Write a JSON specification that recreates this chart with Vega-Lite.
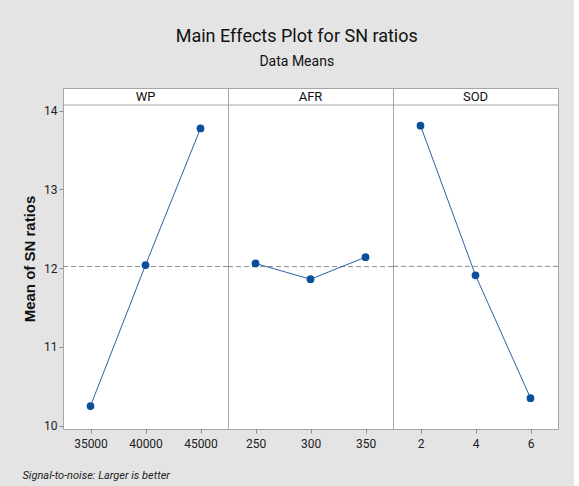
{
  "$schema": "https://vega.github.io/schema/vega-lite/v6.json",
  "background": "#e4e4e4",
  "padding": {"left": 22, "top": 27, "right": 15, "bottom": 5},
  "title": {
    "text": "Main Effects Plot for SN ratios",
    "subtitle": "Data Means",
    "anchor": "middle",
    "dx": 6,
    "font": "Roboto",
    "fontSize": 18,
    "fontWeight": "normal",
    "color": "#111111",
    "subtitleFont": "Roboto",
    "subtitleFontSize": 14,
    "subtitleColor": "#111111",
    "subtitlePadding": 9,
    "offset": 19
  },
  "data": {
    "values": [
      {"factor": "WP", "level": "35000", "sn": 10.25},
      {"factor": "WP", "level": "40000", "sn": 12.04},
      {"factor": "WP", "level": "45000", "sn": 13.775},
      {"factor": "AFR", "level": "250", "sn": 12.06},
      {"factor": "AFR", "level": "300", "sn": 11.86},
      {"factor": "AFR", "level": "350", "sn": 12.14},
      {"factor": "SOD", "level": "2", "sn": 13.81},
      {"factor": "SOD", "level": "4", "sn": 11.91},
      {"factor": "SOD", "level": "6", "sn": 10.35}
    ]
  },
  "vconcat": [
    {
      "title": {
        "text": "Signal-to-noise: Larger is better",
        "orient": "bottom",
        "anchor": "start",
        "frame": "bounds",
        "font": "Roboto",
        "fontStyle": "italic",
        "fontSize": 11,
        "fontWeight": "normal",
        "color": "#222222",
        "offset": 20
      },
      "facet": {
        "column": {"field": "factor", "type": "nominal", "sort": ["WP", "AFR", "SOD"], "title": null, "header": {"labels": false, "title": null}}
      },
      "spacing": 0,
      "bounds": "flush",
      "spec": {
        "width": 165,
        "height": 341,
        "layer": [
          {
            "transform": [{"aggregate": [{"op": "mean", "field": "sn", "as": "mean_sn"}], "groupby": ["factor"]}],
            "mark": {"type": "rule", "strokeDash": [5, 3], "color": "#8c8c8c", "strokeWidth": 1},
            "encoding": {
              "y": {"field": "mean_sn", "type": "quantitative", "title": "Mean of SN ratios", "scale": {"domain": [9.958, 14.288], "nice": false, "zero": false}, "axis": {"values": [10, 11, 12, 13, 14], "format": "d"}}
            }
          },
          {
            "transform": [{"aggregate": [{"op": "count", "as": "n"}], "groupby": ["factor"]}],
            "mark": {"type": "rule", "color": "#a6a6a6", "strokeWidth": 1},
            "encoding": {
              "y": {"datum": 14.072, "type": "quantitative", "title": "Mean of SN ratios", "scale": {"domain": [9.958, 14.288], "nice": false, "zero": false}}
            }
          },
          {
            "transform": [{"aggregate": [{"op": "count", "as": "n"}], "groupby": ["factor"]}],
            "mark": {"type": "text", "font": "Roboto", "fontSize": 13, "color": "#111111", "baseline": "middle", "align": "center"},
            "encoding": {
              "y": {"datum": 14.18, "type": "quantitative", "title": "Mean of SN ratios", "scale": {"domain": [9.958, 14.288], "nice": false, "zero": false}},
              "text": {"field": "factor", "type": "nominal"}
            }
          },
          {
            "mark": {"type": "line", "color": "#2a62a8", "strokeWidth": 1},
            "encoding": {
              "x": {"field": "level", "type": "ordinal", "title": null, "scale": {"type": "point", "padding": 0.5}},
              "y": {"field": "sn", "type": "quantitative", "title": "Mean of SN ratios", "scale": {"domain": [9.958, 14.288], "nice": false, "zero": false}}
            }
          },
          {
            "mark": {"type": "point", "filled": true, "shape": "circle", "size": 60, "color": "#0b4f9c", "opacity": 1},
            "encoding": {
              "x": {"field": "level", "type": "ordinal", "title": null, "scale": {"type": "point", "padding": 0.5}},
              "y": {"field": "sn", "type": "quantitative", "title": "Mean of SN ratios", "scale": {"domain": [9.958, 14.288], "nice": false, "zero": false}}
            }
          }
        ]
      },
      "resolve": {"scale": {"x": "independent"}}
    }
  ],
  "config": {
    "view": {"stroke": "#a6a6a6", "fill": "white", "strokeWidth": 1},
    "axis": {
      "labelFont": "Roboto",
      "labelFontSize": 12,
      "labelColor": "#222222",
      "tickColor": "#8a8a8a",
      "tickSize": 4,
      "domain": false,
      "grid": false,
      "labelPadding": 3
    },
    "axisX": {"labelAngle": 0, "labelPadding": 5},
    "axisY": {
      "titleFont": "Liberation Sans",
      "titleFontSize": 15,
      "titleFontWeight": "bold",
      "titleColor": "#111111",
      "titlePadding": 6,
      "labelPadding": 2
    }
  }
}
